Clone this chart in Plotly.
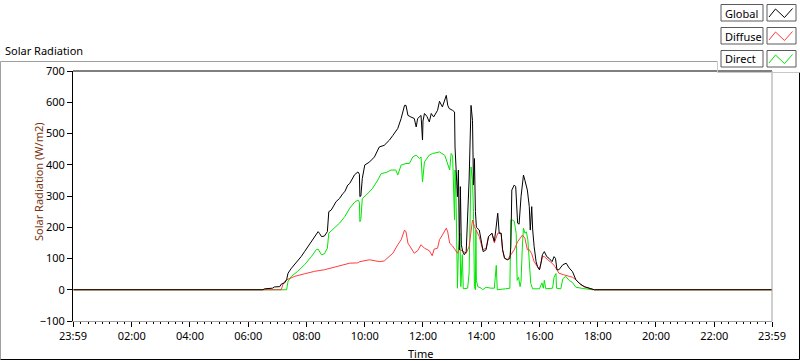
import pandas as pd
import plotly.graph_objects as go

# ---------------- data ----------------
DAY = "2024-05-02"

global_time = ["00:00", "06:30", "06:34", "06:50", "06:54", "07:05", "07:08", "07:15", "07:19", "07:22",
               "07:29", "07:35", "07:42", "07:49", "07:56", "08:03", "08:10", "08:17", "08:24", "08:27",
               "08:31", "08:37", "08:43", "08:46", "08:51", "09:01", "09:08", "09:15", "09:19", "09:25",
               "09:29", "09:39", "09:46", "09:49", "09:50", "09:52", "09:55", "10:00", "10:10", "10:20",
               "10:30", "10:40", "10:51", "10:58", "11:08", "11:15", "11:22", "11:25", "11:29", "11:35",
               "11:42", "11:46", "11:49", "11:56", "11:59", "12:00", "12:03", "12:08", "12:13", "12:17",
               "12:22", "12:30", "12:34", "12:40", "12:48", "12:51", "12:54", "13:01", "13:05", "13:06",
               "13:08", "13:11", "13:13", "13:15", "13:17", "13:19", "13:22", "13:25", "13:29", "13:32",
               "13:35", "13:39", "13:42", "13:44", "13:46", "13:48", "13:50", "13:56", "14:00", "14:04",
               "14:10", "14:15", "14:22", "14:27", "14:30", "14:34", "14:37", "14:41", "14:44", "14:48",
               "14:54", "14:59", "15:01", "15:03", "15:08", "15:11", "15:15", "15:18", "15:22", "15:25",
               "15:27", "15:30", "15:35", "15:39", "15:41", "15:44", "15:46", "15:49", "15:53", "15:56",
               "16:00", "16:03", "16:06", "16:10", "16:15", "16:20", "16:26", "16:30", "16:33", "16:36",
               "16:40", "16:48", "16:55", "17:01", "17:08", "17:15", "17:22", "17:32", "17:43", "17:53",
               "23:59"]
global_wm2 = [0, 0, 3, 5, 9, 10, 18, 22, 32, 53,
              69, 80, 90, 106, 122, 138, 154, 170, 186, 180,
              170, 172, 186, 250, 255, 282, 292, 308, 314, 335,
              340, 368, 377, 370, 298, 300, 356, 399, 409, 425,
              457, 462, 479, 494, 516, 548, 590, 590, 558, 553,
              548, 521, 548, 558, 479, 540, 564, 555, 537, 564,
              553, 574, 603, 585, 622, 590, 580, 574, 569, 457,
              383, 298, 383, 128, 330, 144, 122, 112, 122, 229,
              351, 590, 542, 335, 420, 250, 200, 191, 149, 122,
              128, 170, 181, 155, 191, 245, 181, 181, 128, 101,
              96, 100, 138, 319, 335, 330, 213, 210, 298, 351,
              367, 350, 319, 266, 191, 266, 191, 138, 90, 74,
              64, 85, 112, 122, 106, 100, 90, 106, 100, 64,
              64, 80, 85, 70, 58, 32, 21, 10, 5, 0,
              0]

diffuse_time = ["00:00", "07:08", "07:12", "07:16", "07:22", "07:36", "07:56", "08:17", "08:37", "08:58",
                "09:18", "09:29", "09:45", "09:50", "10:10", "10:20", "10:30", "10:40", "10:51", "10:58",
                "11:08", "11:15", "11:22", "11:25", "11:29", "11:35", "11:42", "11:49", "11:56", "12:03",
                "12:08", "12:13", "12:19", "12:23", "12:30", "12:34", "12:40", "12:48", "12:51", "12:55",
                "13:01", "13:11", "13:15", "13:25", "13:29", "13:35", "13:39", "13:42", "13:46", "13:51",
                "13:56", "14:03", "14:10", "14:15", "14:22", "14:27", "14:34", "14:41", "14:44", "14:48",
                "14:54", "15:01", "15:08", "15:15", "15:22", "15:25", "15:30", "15:35", "15:39", "15:44",
                "15:49", "15:56", "16:00", "16:06", "16:10", "16:17", "16:26", "16:32", "16:40", "16:50",
                "17:00", "17:08", "17:15", "17:25", "17:35", "17:45", "17:53", "23:59"]
diffuse_wm2 = [0, 0, 20, 28, 34, 43, 51, 59, 64, 72,
               80, 85, 86, 90, 96, 92, 90, 92, 106, 117,
               144, 160, 191, 185, 149, 133, 117, 125, 144, 133,
               128, 125, 109, 130, 133, 160, 175, 197, 185, 149,
               140, 117, 130, 120, 117, 138, 181, 223, 202, 185,
               170, 128, 133, 170, 181, 150, 181, 181, 128, 101,
               96, 112, 128, 154, 170, 175, 165, 128, 128, 115,
               90, 74, 64, 106, 106, 96, 85, 74, 53, 48,
               43, 40, 32, 16, 8, 3, 0, 0]

direct_time = ["00:00", "07:19", "07:22", "07:29", "07:42", "07:56", "08:10", "08:20", "08:24", "08:31",
               "08:37", "08:43", "08:46", "08:58", "09:08", "09:19", "09:29", "09:39", "09:46", "09:49",
               "09:50", "09:52", "09:55", "10:03", "10:16", "10:27", "10:34", "10:44", "10:54", "11:04",
               "11:08", "11:15", "11:25", "11:32", "11:39", "11:46", "11:53", "11:56", "11:59", "12:03",
               "12:13", "12:20", "12:34", "12:45", "12:51", "12:55", "12:58", "13:01", "13:05", "13:06",
               "13:08", "13:11", "13:13", "13:16", "13:18", "13:21", "13:23", "13:32", "13:35", "13:39",
               "13:42", "13:44", "13:46", "13:48", "13:49", "13:50", "13:53", "14:00", "14:03", "14:10",
               "14:20", "14:27", "14:31", "14:33", "14:50", "14:59", "15:01", "15:04", "15:08", "15:12",
               "15:14", "15:17", "15:20", "15:22", "15:25", "15:27", "15:30", "15:33", "15:36", "15:39",
               "15:42", "15:46", "16:00", "16:05", "16:08", "16:10", "16:13", "16:27", "16:30", "16:34",
               "16:35", "16:44", "16:48", "16:54", "17:01", "17:08", "17:15", "17:30", "17:50", "23:59"]
direct_wm2 = [0, 0, 27, 43, 59, 80, 106, 128, 130, 112,
              115, 133, 181, 197, 213, 234, 261, 280, 287, 280,
              218, 225, 292, 303, 324, 351, 372, 375, 383, 383,
              367, 399, 404, 404, 425, 431, 420, 425, 345, 409,
              431, 436, 441, 430, 404, 383, 436, 430, 223, 383,
              300, 5, 128, 181, 10, 112, 3, 5, 53, 393,
              350, 250, 10, 0, 191, 30, 10, 5, 0, 8,
              5, 5, 78, 0, 3, 5, 223, 223, 220, 180,
              30, 40, 10, 26, 150, 197, 181, 185, 160, 90,
              20, 3, 3, 22, 5, 30, 3, 5, 40, 52,
              5, 3, 35, 43, 30, 23, 8, 4, 0, 0]

series_names = ["Global", "Diffuse", "Direct"]
series_colors = ["#000000", "#ff3c3c", "#00e600"]

x_start = "2024-05-01 23:59"
x_end = "2024-05-02 23:59"
tick_times = [x_start] + [f"{DAY} {h:02d}:00" for h in range(2, 24, 2)] + [x_end]
tick_labels = ["23:59", "02:00", "04:00", "06:00", "08:00", "10:00", "12:00",
               "14:00", "16:00", "18:00", "20:00", "22:00", "23:59"]

# ---------------- figure ----------------
def ts(times):
    return pd.to_datetime([f"{DAY} {t}" for t in times])

series = {
    "Global": (global_time, global_wm2),
    "Diffuse": (diffuse_time, diffuse_wm2),
    "Direct": (direct_time, direct_wm2),
}

fig = go.Figure()
# draw Direct, Diffuse, then Global on top
for name in ["Direct", "Diffuse", "Global"]:
    t, v = series[name]
    col = series_colors[series_names.index(name)]
    fig.add_trace(go.Scatter(x=ts(t), y=v, mode="lines", name=name,
                             line=dict(color=col, width=1)))

L, R, T, B = 73, 772, 71, 321
W, H = R - L, B - T


def px(x):
    return (x - L) / W


def py(y):
    return (B - y) / H


shapes = []


def line(x0, y0, x1, y1, color, width=1):
    shapes.append(dict(type="line", xref="paper", yref="paper",
                       x0=px(x0), y0=py(y0), x1=px(x1), y1=py(y1),
                       line=dict(color=color, width=width)))


# plot area border (top black, right gray)
line(L, T, R, T, "#000000")
line(R, T, R, B, "#a0a0a0")
# outer frame
line(0.5, 61.5, 717.5, 61.5, "#a0a0a0")
line(0.5, 61.5, 0.5, 359.5, "#a0a0a0")
line(0.5, 359.5, 799.5, 359.5, "#000000")
line(799.5, 72.5, 799.5, 359.5, "#000000")
# legend panel edges
line(717.5, 61.5, 717.5, 72.5, "#c8c8c8")
line(717.5, 72.5, 799.5, 72.5, "#c8c8c8")

annotations = []
row_top = [4.5, 27.5, 50.5]
for i, name in enumerate(series_names):
    y0 = row_top[i]
    y1 = y0 + 16.5
    shapes.append(dict(type="rect", xref="paper", yref="paper",
                       x0=px(721), x1=px(763), y0=py(y1), y1=py(y0),
                       line=dict(color="#5a5a5a", width=1), fillcolor="white"))
    shapes.append(dict(type="rect", xref="paper", yref="paper",
                       x0=px(767), x1=px(796), y0=py(y1), y1=py(y0),
                       line=dict(color="#5a5a5a", width=1), fillcolor="white"))
    pts = [(769, y0 + 12.5), (775.5, y0 + 4.5), (784.5, y0 + 13), (792.5, y0 + 4)]
    path = "M " + " L ".join(f"{px(a):.5f},{py(b):.5f}" for a, b in pts)
    shapes.append(dict(type="path", xref="paper", yref="paper", path=path,
                       line=dict(color=series_colors[i], width=1)))
    annotations.append(dict(text=name, xref="paper", yref="paper",
                            x=px(723), y=py(y0 + 8.5), xanchor="left", yanchor="middle",
                            showarrow=False, font=dict(size=11, color="#000000")))

annotations.append(dict(text="Solar Radiation", xref="paper", yref="paper",
                        x=px(3), y=py(51), xanchor="left", yanchor="middle",
                        showarrow=False, font=dict(size=11, color="#000000")))
annotations.append(dict(text="Solar Radiation (W/m2)", xref="paper", yref="paper",
                        x=px(38), y=py(182), xanchor="center", yanchor="middle",
                        textangle=-90, showarrow=False,
                        font=dict(size=11, color="#7a3510")))
annotations.append(dict(text="Time", xref="paper", yref="paper",
                        x=px(420), y=py(353), xanchor="center", yanchor="middle",
                        showarrow=False, font=dict(size=11, color="#000000")))

fig.update_layout(
    width=800, height=361,
    margin=dict(l=L, r=800 - R, t=T, b=361 - B, autoexpand=False),
    paper_bgcolor="white", plot_bgcolor="white",
    showlegend=False,
    font=dict(family="Noto Sans", size=11, color="#000000"),
    shapes=shapes, annotations=annotations,
    xaxis=dict(type="date", range=[x_start, x_end],
               tickmode="array", tickvals=tick_times, ticktext=tick_labels,
               ticks="outside", ticklen=5, tickwidth=1, tickcolor="#000000",
               showline=True, linecolor="#a0a0a0", linewidth=1,
               showgrid=False, zeroline=False,
               tickfont=dict(size=11),
               minor=dict(ticks="outside", ticklen=2, tickwidth=1, tickcolor="#000000",
                          tickmode="linear", dtick=15 * 60 * 1000,
                          tick0=f"{DAY} 00:00", showgrid=False)),
    yaxis=dict(range=[-100, 700], tickmode="linear", tick0=0, dtick=100,
               ticks="outside", ticklen=5, tickwidth=1, tickcolor="#000000",
               showline=True, linecolor="#000000", linewidth=1,
               showgrid=False, zeroline=False, tickfont=dict(size=11)),
)

fig.write_html("out.html",
               config={"displayModeBar": False, "staticPlot": True},
               post_script="document.body.style.margin='0';document.body.style.overflow='hidden';")
